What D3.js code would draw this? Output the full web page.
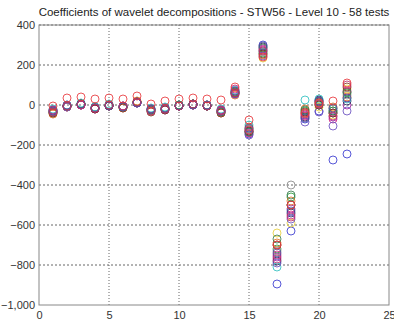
<!DOCTYPE html>
<html>
<head>
<meta charset="utf-8">
<script src="https://cdn.jsdelivr.net/npm/d3@7"></script>
<style>
  body { margin: 0; background: #fff; }
  text { font-family: "Liberation Sans", Arial, sans-serif; }
</style>
</head>
<body>
<script>
const w = 394;
const h = 323;
const margin = { top: 25, right: 5, bottom: 18, left: 39 };

const title = 'Coefficients of wavelet decompositions - STW56 - Level 10 - 58 tests';
const xTicks = [0, 5, 10, 15, 20, 25];
const yTicks = [400, 200, 0, -200, -400, -600, -800, -1000];

// coefficient index 1..22
const levels = d3.range(1, 23);

// one array per test (a subset of the 58 tests)
const testColors = ['#3a3ad0', '#2a9a3a', '#a020a0', '#2a2a60', '#e07020', '#30c0c0',
  '#e8d040', '#8a8a8a', '#d02080', '#6a50c0', '#8a3020', '#3a7a50', '#5050a0', '#c03070',
  '#e8383d'];
const tests = [
  [-35, -5, 5, -15, -5, -10, 10, -25, -20, -5, 0, -5, -30, 55, -145, 300, -895, -630, -70, -30, -275, -245],
  [-40, -5, 5, -15, 0, -10, 15, -30, -20, -5, 5, -5, -35, 60, -120, 260, -720, -460, -30, 0, -30, 60],
  [-30, -10, 0, -20, -5, -5, 10, -25, -25, -5, 0, -5, -30, 70, -130, 280, -760, -520, -50, 20, -60, 0],
  [-25, -5, 5, -10, 0, -10, 15, -20, -15, 0, 5, 0, -25, 65, -135, 290, -780, -540, -60, 25, -40, 20],
  [-45, -10, 0, -15, -5, -15, 20, -30, -20, -5, 0, 0, -40, 50, -110, 250, -690, -480, -20, 10, -10, 40],
  [-20, 0, 10, -10, 5, -5, 10, -15, -10, 0, 5, 0, -20, 75, -100, 270, -810, -500, 25, 30, -20, 30],
  [-30, -5, 5, -15, 0, -10, 15, -25, -20, -5, 0, -5, -30, 65, -125, 235, -640, -590, -45, -10, -50, 80],
  [-35, -5, 5, -15, -5, -10, 15, -25, -15, -5, 5, 0, -30, 60, -120, 265, -730, -400, -40, 5, -20, 50],
  [-25, -5, 0, -20, 0, -5, 10, -20, -20, -5, 0, -5, -25, 80, -140, 275, -750, -550, -55, 15, -70, 70],
  [-30, -10, 0, -15, -5, -10, 10, -25, -20, -5, 0, -5, -35, 55, -150, 245, -790, -570, -85, -35, -105, -30],
  [-40, -5, 5, -20, -5, -15, 15, -35, -25, -5, 5, -5, -40, 60, -130, 255, -700, -500, -35, 0, -40, 90],
  [-35, -5, 5, -15, 0, -10, 15, -25, -20, 0, 5, -5, -35, 65, -135, 285, -670, -450, -25, 15, -30, 65],
  [-30, 0, 5, -15, -5, -10, 10, -20, -15, -5, 0, 0, -30, 70, -115, 295, -740, -530, -65, 20, -15, 35],
  [-35, -5, 0, -15, 0, -5, 15, -30, -20, -5, 5, -5, -30, 60, -125, 270, -770, -560, -45, 5, -55, 100],
  [-5, 35, 40, 30, 35, 30, 45, 5, 20, 30, 35, 30, 25, 90, -75, 240, -700, -500, -40, 10, 20, 110]
];

const svg = d3.select('body')
  .append('svg')
  .attr('width', w)
  .attr('height', h);

const xScale = d3.scaleLinear()
  .domain([0, 25])
  .range([margin.left, w - margin.right]);

const yScale = d3.scaleLinear()
  .domain([-1000, 400])
  .range([h - margin.bottom, margin.top]);

// grid
svg.append('g')
  .selectAll('line')
  .data(xTicks.slice(1, -1))
  .enter()
  .append('line')
  .attr('x1', d => xScale(d)).attr('x2', d => xScale(d))
  .attr('y1', yScale(400)).attr('y2', yScale(-1000))
  .attr('stroke', '#666').attr('stroke-width', 1).attr('stroke-dasharray', '1,2');

svg.append('g')
  .selectAll('line')
  .data(yTicks.slice(0, -1))
  .enter()
  .append('line')
  .attr('x1', xScale(0)).attr('x2', xScale(25))
  .attr('y1', d => yScale(d)).attr('y2', d => yScale(d))
  .attr('stroke', '#666').attr('stroke-width', 1).attr('stroke-dasharray', '2,2');

// frame
svg.append('rect')
  .attr('x', xScale(0)).attr('y', yScale(400))
  .attr('width', xScale(25) - xScale(0))
  .attr('height', yScale(-1000) - yScale(400))
  .attr('fill', 'none').attr('stroke', '#888').attr('stroke-width', 1);

const xAxis = d3.axisBottom(xScale).tickValues(xTicks).tickSize(0).tickPadding(6);
const yAxis = d3.axisLeft(yScale).tickValues(yTicks).tickSize(0).tickPadding(4);

const gx = svg.append('g')
  .attr('transform', 'translate(0,' + (h - margin.bottom) + ')')
  .call(xAxis);
const gy = svg.append('g')
  .attr('transform', 'translate(' + margin.left + ',0)')
  .call(yAxis);

[gx, gy].forEach(g => {
  g.select('.domain').remove();
  g.selectAll('text').attr('font-size', 11).attr('fill', '#333')
    .attr('font-family', '"Liberation Sans", Arial, sans-serif');
});

// points
tests.forEach((vals, i) => {
  svg.append('g')
    .selectAll('circle')
    .data(vals)
    .enter()
    .append('circle')
    .attr('cx', (d, j) => xScale(levels[j]))
    .attr('cy', d => yScale(d))
    .attr('r', 4)
    .attr('fill', 'none')
    .attr('stroke', testColors[i])
    .attr('stroke-width', 1)
    .attr('opacity', 0.85);
});

svg.append('text')
  .attr('x', (xScale(0) + xScale(25)) / 2)
  .attr('y', 16)
  .attr('text-anchor', 'middle')
  .attr('font-size', 11.5)
  .attr('fill', '#222')
  .text(title);
</script>
</body>
</html>
